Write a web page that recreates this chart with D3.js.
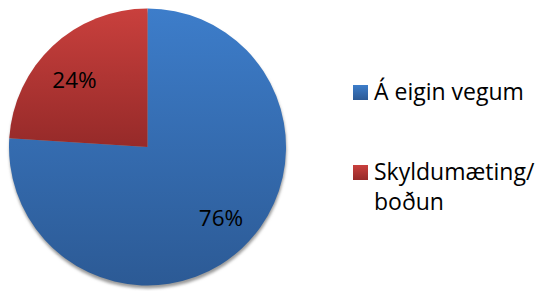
<!DOCTYPE html>
<html>
<head>
<meta charset="utf-8">
<script src="https://cdn.jsdelivr.net/npm/d3@7"></script>
<style>
  body { margin: 0; background: #fff; }
  svg text { font-family: "Open Sans", sans-serif; }
</style>
</head>
<body>
<div id="chart"></div>
<script>
  // data
  var categories = ['Á eigin vegum', 'Skyldumæting/ boðun'];
  var values = [76, 24];
  var legendLines = [['Á eigin vegum'], ['Skyldumæting/', 'boðun']];
  var colorsTop = ['#3d7dca', '#c9403d'];
  var colorsBottom = ['#2c5a95', '#962a29'];

  var width = 542, height = 291;
  var cx = 147.5, cy = 147, radius = 138.5;

  var svg = d3.select('#chart').append('svg')
    .attr('width', width)
    .attr('height', height);

  var defs = svg.append('defs');

  categories.forEach(function (c, i) {
    var g = defs.append('linearGradient')
      .attr('id', 'grad' + i)
      .attr('x1', 0).attr('y1', 0).attr('x2', 0).attr('y2', 1);
    g.append('stop').attr('offset', '0%').attr('stop-color', colorsTop[i]);
    g.append('stop').attr('offset', '100%').attr('stop-color', colorsBottom[i]);
  });

  var blur = defs.append('filter').attr('id', 'shadow')
    .attr('x', '-10%').attr('y', '-10%').attr('width', '120%').attr('height', '120%');
  blur.append('feGaussianBlur').attr('stdDeviation', 1.5);

  var pie = d3.pie().sort(null).value(function (d) { return d; });
  var arcs = pie(values);
  var arc = d3.arc().innerRadius(0).outerRadius(radius);

  var main = svg.append('g')
    .attr('transform', 'translate(' + cx + ',' + cy + ')');

  //--- shadow under the pie
  main.append('circle')
    .attr('cx', 0.5).attr('cy', 3)
    .attr('r', radius)
    .attr('fill', '#9a9a9a')
    .attr('filter', 'url(#shadow)');

  main.selectAll('path.slice')
    .data(arcs).enter()
    .append('path')
    .attr('class', 'slice')
    .attr('d', arc)
    .attr('fill', function (d, i) { return 'url(#grad' + i + ')'; });

  //--- labels
  var labelPos = [[221, 226], [74.5, 88]];
  main.selectAll('text.lbl')
    .data(arcs).enter()
    .append('text')
    .attr('class', 'lbl')
    .attr('x', function (d, i) { return labelPos[i][0] - cx; })
    .attr('y', function (d, i) { return labelPos[i][1] - cy; })
    .attr('text-anchor', 'middle')
    .attr('font-size', 22.5)
    .attr('fill', '#000')
    .text(function (d) { return d.data + '%'; });

  //--- legend
  var legendY = [85, 165];
  var legend = svg.append('g');
  var items = legend.selectAll('g.item')
    .data(categories).enter()
    .append('g')
    .attr('class', 'item')
    .attr('transform', function (d, i) { return 'translate(353,' + legendY[i] + ')'; });

  items.append('rect')
    .attr('width', 15).attr('height', 15)
    .attr('fill', function (d, i) { return 'url(#grad' + i + ')'; });

  items.append('text')
    .attr('x', 21)
    .attr('y', 15)
    .attr('font-size', 23)
    .attr('fill', '#000')
    .each(function (d, i) {
      var t = d3.select(this);
      legendLines[i].forEach(function (line, j) {
        t.append('tspan').attr('x', 21).attr('dy', j === 0 ? 0 : 29.5).text(line);
      });
    });
</script>
</body>
</html>
